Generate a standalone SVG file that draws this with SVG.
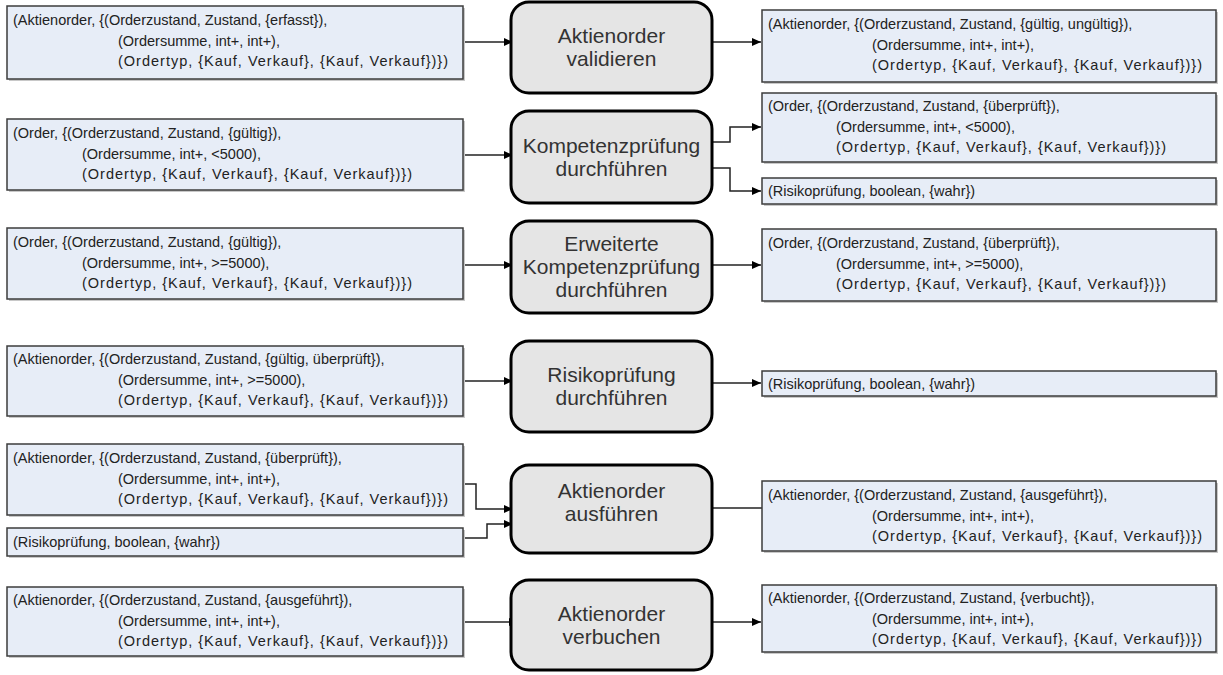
<svg xmlns="http://www.w3.org/2000/svg" width="1223" height="675" viewBox="0 0 1223 675">
<defs>
<marker id="arr" markerWidth="10" markerHeight="10" refX="9" refY="5" orient="auto" markerUnits="userSpaceOnUse">
<path d="M0,1 L9,5 L0,9 Z" fill="#000"/>
</marker>
<style>
.d{fill:#E7EDF7;stroke:#3C3C3C;stroke-width:1.5}
.sh{fill:#C8C8C8}
.p{fill:#E5E5E5;stroke:#000;stroke-width:3}
.t{font-family:"Liberation Sans",Arial,sans-serif;font-size:14.5px;fill:#222}
.pt{font-family:"Liberation Sans",Arial,sans-serif;font-size:21px;fill:#333;text-anchor:middle}
.c{fill:none;stroke:#222;stroke-width:1.5}
</style>
</defs>
<rect width="1223" height="675" fill="#fff"/>
<g id="connectors">
<path class="c" d="M463,42 H513" marker-end="url(#arr)"/>
<path class="c" d="M712,42 H761" marker-end="url(#arr)"/>
<path class="c" d="M463,155 H513" marker-end="url(#arr)"/>
<path class="c" d="M712,142 H730 V127 H761" marker-end="url(#arr)"/>
<path class="c" d="M712,168 H730 V191 H761" marker-end="url(#arr)"/>
<path class="c" d="M463,265 H513" marker-end="url(#arr)"/>
<path class="c" d="M712,265 H761" marker-end="url(#arr)"/>
<path class="c" d="M463,381 H513" marker-end="url(#arr)"/>
<path class="c" d="M712,383 H761" marker-end="url(#arr)"/>
<path class="c" d="M463,484 H476 V509 H513" marker-end="url(#arr)"/>
<path class="c" d="M463,538 H487 V524 H513" marker-end="url(#arr)"/>
<path class="c" d="M712,508 H762"/>
<path class="c" d="M463,622 H518" marker-end="url(#arr)"/>
<path class="c" d="M712,622 H761" marker-end="url(#arr)"/>
</g>
<g id="A1"><rect class="sh" x="9" y="8" width="456" height="73"/><rect class="d" x="7" y="6" width="456" height="73"/>
<text class="t" x="13" y="25">(Aktienorder, {(Orderzustand, Zustand, {erfasst}),</text>
<text class="t" x="118" y="45.5">(Ordersumme, int+, int+),</text>
<text class="t" x="118" y="66" textLength="330" lengthAdjust="spacing">(Ordertyp, {Kauf, Verkauf}, {Kauf, Verkauf})})</text></g>
<g id="P1"><rect class="p" x="511" y="2" width="201" height="91" rx="18"/>
<text class="pt" x="611.5" y="43">Aktienorder</text><text class="pt" x="611.5" y="66">validieren</text></g>
<g id="B1"><rect class="sh" x="764" y="12" width="454" height="72"/><rect class="d" x="762" y="10" width="454" height="72"/>
<text class="t" x="768" y="29">(Aktienorder, {(Orderzustand, Zustand, {gültig, ungültig}),</text>
<text class="t" x="872" y="49.5">(Ordersumme, int+, int+),</text>
<text class="t" x="872" y="70" textLength="330" lengthAdjust="spacing">(Ordertyp, {Kauf, Verkauf}, {Kauf, Verkauf})})</text></g>
<g id="A2"><rect class="sh" x="9" y="121" width="456" height="71"/><rect class="d" x="7" y="119" width="456" height="71"/>
<text class="t" x="13" y="138">(Order, {(Orderzustand, Zustand, {gültig}),</text>
<text class="t" x="82" y="158.5">(Ordersumme, int+, &lt;5000),</text>
<text class="t" x="82" y="179" textLength="330" lengthAdjust="spacing">(Ordertyp, {Kauf, Verkauf}, {Kauf, Verkauf})})</text></g>
<g id="P2"><rect class="p" x="511" y="111" width="201" height="92" rx="18"/>
<text class="pt" x="611.5" y="153">Kompetenzprüfung</text><text class="pt" x="611.5" y="176">durchführen</text></g>
<g id="B2"><rect class="sh" x="764" y="95" width="454" height="69"/><rect class="d" x="762" y="93" width="454" height="69"/>
<text class="t" x="768" y="111">(Order, {(Orderzustand, Zustand, {überprüft}),</text>
<text class="t" x="836" y="131.5">(Ordersumme, int+, &lt;5000),</text>
<text class="t" x="836" y="152" textLength="330" lengthAdjust="spacing">(Ordertyp, {Kauf, Verkauf}, {Kauf, Verkauf})})</text></g>
<g id="B2b"><rect class="sh" x="764" y="180" width="454" height="26"/><rect class="d" x="762" y="178" width="454" height="26"/>
<text class="t" x="768" y="196">(Risikoprüfung, boolean, {wahr})</text></g>
<g id="A3"><rect class="sh" x="9" y="230" width="456" height="71"/><rect class="d" x="7" y="228" width="456" height="71"/>
<text class="t" x="13" y="247">(Order, {(Orderzustand, Zustand, {gültig}),</text>
<text class="t" x="82" y="267.5">(Ordersumme, int+, &gt;=5000),</text>
<text class="t" x="82" y="288" textLength="330" lengthAdjust="spacing">(Ordertyp, {Kauf, Verkauf}, {Kauf, Verkauf})})</text></g>
<g id="P3"><rect class="p" x="511" y="221" width="201" height="92" rx="18"/>
<text class="pt" x="611.5" y="251">Erweiterte</text><text class="pt" x="611.5" y="274">Kompetenzprüfung</text><text class="pt" x="611.5" y="297">durchführen</text></g>
<g id="B3"><rect class="sh" x="764" y="231" width="454" height="72"/><rect class="d" x="762" y="229" width="454" height="72"/>
<text class="t" x="768" y="248">(Order, {(Orderzustand, Zustand, {überprüft}),</text>
<text class="t" x="836" y="268.5">(Ordersumme, int+, &gt;=5000),</text>
<text class="t" x="836" y="289" textLength="330" lengthAdjust="spacing">(Ordertyp, {Kauf, Verkauf}, {Kauf, Verkauf})})</text></g>
<g id="A4"><rect class="sh" x="9" y="348" width="456" height="70"/><rect class="d" x="7" y="346" width="456" height="70"/>
<text class="t" x="13" y="364">(Aktienorder, {(Orderzustand, Zustand, {gültig, überprüft}),</text>
<text class="t" x="118" y="384.5">(Ordersumme, int+, &gt;=5000),</text>
<text class="t" x="118" y="405" textLength="330" lengthAdjust="spacing">(Ordertyp, {Kauf, Verkauf}, {Kauf, Verkauf})})</text></g>
<g id="P4"><rect class="p" x="511" y="341" width="201" height="91" rx="18"/>
<text class="pt" x="611.5" y="382">Risikoprüfung</text><text class="pt" x="611.5" y="405">durchführen</text></g>
<g id="B4"><rect class="sh" x="764" y="373" width="454" height="25"/><rect class="d" x="762" y="371" width="454" height="25"/>
<text class="t" x="768" y="388.5">(Risikoprüfung, boolean, {wahr})</text></g>
<g id="A5"><rect class="sh" x="9" y="446" width="456" height="71"/><rect class="d" x="7" y="444" width="456" height="71"/>
<text class="t" x="13" y="463">(Aktienorder, {(Orderzustand, Zustand, {überprüft}),</text>
<text class="t" x="118" y="483.5">(Ordersumme, int+, int+),</text>
<text class="t" x="118" y="504" textLength="330" lengthAdjust="spacing">(Ordertyp, {Kauf, Verkauf}, {Kauf, Verkauf})})</text></g>
<g id="A5b"><rect class="sh" x="9" y="530" width="456" height="28"/><rect class="d" x="7" y="528" width="456" height="28"/>
<text class="t" x="13" y="547">(Risikoprüfung, boolean, {wahr})</text></g>
<g id="P5"><rect class="p" x="511" y="465" width="201" height="88" rx="18"/>
<text class="pt" x="611.5" y="498">Aktienorder</text><text class="pt" x="611.5" y="521">ausführen</text></g>
<g id="B5"><rect class="sh" x="764" y="483" width="454" height="70"/><rect class="d" x="762" y="481" width="454" height="70"/>
<text class="t" x="768" y="500">(Aktienorder, {(Orderzustand, Zustand, {ausgeführt}),</text>
<text class="t" x="872" y="520.5">(Ordersumme, int+, int+),</text>
<text class="t" x="872" y="541" textLength="330" lengthAdjust="spacing">(Ordertyp, {Kauf, Verkauf}, {Kauf, Verkauf})})</text></g>
<g id="A6"><rect class="sh" x="9" y="589" width="456" height="69"/><rect class="d" x="7" y="587" width="456" height="69"/>
<text class="t" x="13" y="605">(Aktienorder, {(Orderzustand, Zustand, {ausgeführt}),</text>
<text class="t" x="118" y="625.5">(Ordersumme, int+, int+),</text>
<text class="t" x="118" y="646" textLength="330" lengthAdjust="spacing">(Ordertyp, {Kauf, Verkauf}, {Kauf, Verkauf})})</text></g>
<g id="P6"><rect class="p" x="511" y="580" width="201" height="90" rx="18"/>
<text class="pt" x="611.5" y="621">Aktienorder</text><text class="pt" x="611.5" y="644">verbuchen</text></g>
<g id="B6"><rect class="sh" x="764" y="587" width="454" height="67"/><rect class="d" x="762" y="585" width="454" height="67"/>
<text class="t" x="768" y="603">(Aktienorder, {(Orderzustand, Zustand, {verbucht}),</text>
<text class="t" x="872" y="623.5">(Ordersumme, int+, int+),</text>
<text class="t" x="872" y="644" textLength="330" lengthAdjust="spacing">(Ordertyp, {Kauf, Verkauf}, {Kauf, Verkauf})})</text></g>
</svg>
